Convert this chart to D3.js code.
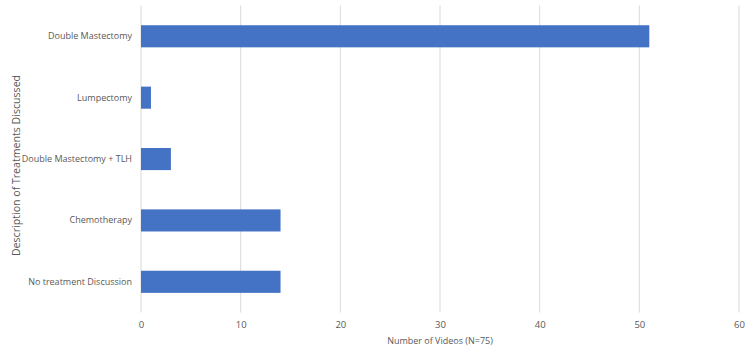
<!DOCTYPE html>
<html>
<head>
<meta charset="utf-8">
<script src="https://cdn.jsdelivr.net/npm/d3@7"></script>
<style>
  body { margin: 0; background: #fff; }
  text { font-family: "Open Sans", sans-serif; fill: #595959; }
</style>
</head>
<body>
<div id="chart"></div>
<script>
// data
var categories = ['Double Mastectomy', 'Lumpectomy', 'Double Mastectomy + TLH', 'Chemotherapy', 'No treatment Discussion'];
var values = [51, 1, 3, 14, 14];
var x_ticks = [0, 10, 20, 30, 40, 50, 60];

var width = 750;
var height = 353;
var margin = {'top': 5.6, 'right': 11, 'bottom': 40.5, 'left': 141};

var svg = d3.select('#chart')
    .append('svg')
    .attr('width', width)
    .attr('height', height);

var x = d3.scaleLinear()
    .domain([0, 60])
    .range([margin.left, width - margin.right]);

var y = d3.scaleBand()
    .domain(categories)
    .range([margin.top, height - margin.bottom])
    .paddingInner(0.64)
    .paddingOuter(0.32);

// gridlines
svg.append('g')
    .selectAll('line')
    .data(x_ticks)
    .enter()
    .append('line')
    .attr('x1', function(d){ return x(d); })
    .attr('x2', function(d){ return x(d); })
    .attr('y1', margin.top)
    .attr('y2', height - margin.bottom)
    .style('stroke', '#d9d9d9')
    .style('stroke-width', 1);

// bars
svg.append('g')
    .selectAll('rect')
    .data(values)
    .enter()
    .append('rect')
    .attr('x', x(0))
    .attr('y', function(d, i){ return y(categories[i]); })
    .attr('width', function(d){ return x(d) - x(0); })
    .attr('height', y.bandwidth())
    .attr('fill', '#4472c4');

// x axis
var xAxis = svg.append('g')
    .attr('transform', 'translate(0,' + (height - margin.bottom) + ')')
    .call(d3.axisBottom(x).tickValues(x_ticks).tickSize(0).tickPadding(9));
xAxis.select('.domain').remove();
xAxis.selectAll('text')
    .style('font-family', '"Open Sans", sans-serif')
    .style('font-size', '9.5px')
    .style('fill', '#595959');

// y axis
var yAxis = svg.append('g')
    .attr('transform', 'translate(' + margin.left + ',0)')
    .call(d3.axisLeft(y).tickSize(0).tickPadding(9));
yAxis.select('.domain').remove();
yAxis.selectAll('text')
    .style('font-family', '"Open Sans", sans-serif')
    .style('font-size', '9px')
    .style('fill', '#595959');

// titles
svg.append('text')
    .attr('x', (x(0) + x(60)) / 2)
    .attr('y', 343.5)
    .attr('text-anchor', 'middle')
    .style('font-size', '9px')
    .text('Number of Videos (N=75)');

svg.append('text')
    .attr('transform', 'translate(19.5,165.5) rotate(-90)')
    .attr('text-anchor', 'middle')
    .style('font-size', '10.6px')
    .text('Description of Treatments Discussed');
</script>
</body>
</html>
